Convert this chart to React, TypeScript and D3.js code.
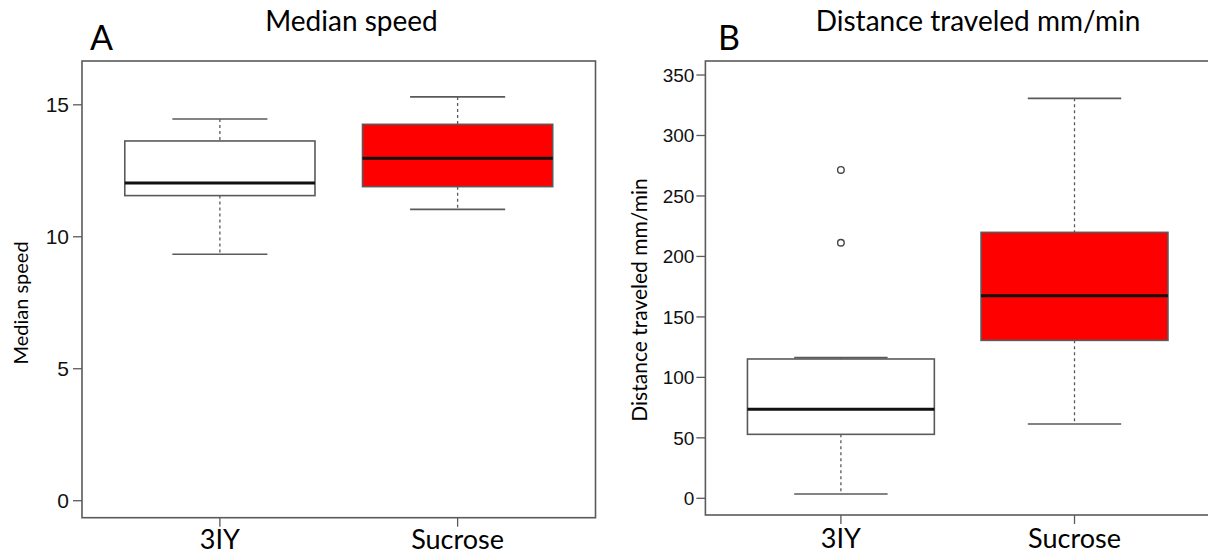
import React from "react";
import * as d3 from "d3";

// ---------- data ----------
const categories = ["3IY", "Sucrose"];
const boxFills = ["#ffffff", "#ff0000"];

// Panel A: Median speed
const speedWhiskerLow = [9.34, 11.04];
const speedQ1 = [11.56, 11.9];
const speedMedian = [12.04, 12.98];
const speedQ3 = [13.63, 14.26];
const speedWhiskerHigh = [14.46, 15.3];
const speedOutliers: number[][] = [[], []];
const speedTicks = [0, 5, 10, 15];

// Panel B: Distance traveled mm/min
const distWhiskerLow = [3.6, 61.4];
const distQ1 = [52.9, 130.6];
const distMedian = [73.6, 167.5];
const distQ3 = [115.2, 219.9];
const distWhiskerHigh = [116.3, 330.7];
const distOutliers: number[][] = [[271.5, 211.3], []];
const distTicks = [0, 50, 100, 150, 200, 250, 300, 350];

const FONT = "Lato, 'Open Sans', sans-serif";
const NUMFONT = "'Liberation Sans', Arial, sans-serif";
const GREY = "#5a5a5a";

type PanelProps = {
  left: number;
  right: number;
  top: number;
  bottom: number;
  yDomain: [number, number];
  low: number[];
  q1: number[];
  med: number[];
  q3: number[];
  high: number[];
  outliers: number[][];
  ticks: number[];
  tickFont: number;
  tickGap: number;
  letter: string;
  letterX: number;
  title: string;
  titleX: number;
  titleSize: number;
  yLabel: string;
  yLabelX: number;
  yLabelY: number;
  yLabelSize: number;
  xLabelBaseline: number;
};

function Panel(p: PanelProps) {
  const x = d3.scaleLinear().domain([0.42, 2.58]).range([p.left, p.right]);
  const y = d3.scaleLinear().domain(p.yDomain).range([p.bottom, p.top]);
  const halfBox = 0.4;
  const halfCap = 0.2;
  const tickLen = 9;
  return (
    <g>
      {/* letter and title */}
      <text x={p.letterX} y={50} fontFamily={FONT} fontSize={34} fill="#000">
        {p.letter}
      </text>
      <text
        x={p.titleX}
        y={30.5}
        fontFamily={FONT}
        fontSize={p.titleSize}
        textAnchor="middle"
        fill="#000"
      >
        {p.title}
      </text>
      {/* boxes */}
      {categories.map((c, i) => {
        const cx = x(i + 1);
        return (
          <g key={c}>
            <line
              x1={cx}
              x2={cx}
              y1={y(p.high[i])}
              y2={y(p.q3[i])}
              stroke={GREY}
              strokeWidth={1.3}
              strokeDasharray="3,3"
            />
            <line
              x1={cx}
              x2={cx}
              y1={y(p.q1[i])}
              y2={y(p.low[i])}
              stroke={GREY}
              strokeWidth={1.3}
              strokeDasharray="3,3"
            />
            <line
              x1={x(i + 1 - halfCap)}
              x2={x(i + 1 + halfCap)}
              y1={y(p.high[i])}
              y2={y(p.high[i])}
              stroke={GREY}
              strokeWidth={1.6}
            />
            <line
              x1={x(i + 1 - halfCap)}
              x2={x(i + 1 + halfCap)}
              y1={y(p.low[i])}
              y2={y(p.low[i])}
              stroke={GREY}
              strokeWidth={1.6}
            />
            <rect
              x={x(i + 1 - halfBox)}
              y={y(p.q3[i])}
              width={x(i + 1 + halfBox) - x(i + 1 - halfBox)}
              height={y(p.q1[i]) - y(p.q3[i])}
              fill={boxFills[i]}
              stroke={GREY}
              strokeWidth={1.6}
            />
            <line
              x1={x(i + 1 - halfBox)}
              x2={x(i + 1 + halfBox)}
              y1={y(p.med[i])}
              y2={y(p.med[i])}
              stroke="#111"
              strokeWidth={3}
            />
            {p.outliers[i].map((v, j) => (
              <circle
                key={j}
                cx={cx}
                cy={y(v)}
                r={3.3}
                fill="none"
                stroke="#444"
                strokeWidth={1.4}
              />
            ))}
          </g>
        );
      })}
      {/* frame */}
      <rect
        x={p.left}
        y={p.top}
        width={p.right - p.left}
        height={p.bottom - p.top}
        fill="none"
        stroke={GREY}
        strokeWidth={1.6}
      />
      {/* y axis ticks */}
      {p.ticks.map((t) => (
        <g key={t}>
          <line
            x1={p.left - tickLen}
            x2={p.left}
            y1={y(t)}
            y2={y(t)}
            stroke={GREY}
            strokeWidth={1.3}
          />
          <text
            x={p.left - tickLen - p.tickGap}
            y={y(t)}
            dy="0.36em"
            textAnchor="end"
            fontFamily={NUMFONT}
            fontSize={p.tickFont}
            fill="#111"
          >
            {t}
          </text>
        </g>
      ))}
      {/* x axis ticks */}
      {categories.map((c, i) => (
        <g key={c}>
          <line
            x1={x(i + 1)}
            x2={x(i + 1)}
            y1={p.bottom}
            y2={p.bottom + tickLen}
            stroke={GREY}
            strokeWidth={1.3}
          />
          <text
            x={x(i + 1)}
            y={p.xLabelBaseline}
            textAnchor="middle"
            fontFamily={FONT}
            fontSize={27}
            fill="#000"
          >
            {c}
          </text>
        </g>
      ))}
      {/* y label */}
      <text
        transform={`translate(${p.yLabelX},${p.yLabelY}) rotate(-90)`}
        textAnchor="middle"
        fontFamily={FONT}
        fontSize={p.yLabelSize}
        fill="#000"
      >
        {p.yLabel}
      </text>
    </g>
  );
}

export default function App() {
  return (
    <svg
      width={1208}
      height={555}
      style={{ position: "absolute", left: 0, top: 0, background: "#fff" }}
    >
      <rect width={1208} height={555} fill="#fff" />
      <Panel
        left={82}
        right={595.5}
        top={61}
        bottom={517.7}
        yDomain={[-0.644, 16.66]}
        low={speedWhiskerLow}
        q1={speedQ1}
        med={speedMedian}
        q3={speedQ3}
        high={speedWhiskerHigh}
        outliers={speedOutliers}
        ticks={speedTicks}
        tickFont={21}
        tickGap={4}
        letter="A"
        letterX={90}
        title="Median speed"
        titleX={351.5}
        titleSize={28}
        yLabel="Median speed"
        yLabelX={28}
        yLabelY={303}
        yLabelSize={20}
        xLabelBaseline={549}
      />
      <Panel
        left={705.4}
        right={1210}
        top={61}
        bottom={515}
        yDomain={[-13.8, 361.6]}
        low={distWhiskerLow}
        q1={distQ1}
        med={distMedian}
        q3={distQ3}
        high={distWhiskerHigh}
        outliers={distOutliers}
        ticks={distTicks}
        tickFont={19}
        tickGap={2}
        letter="B"
        letterX={718}
        title="Distance traveled mm/min"
        titleX={978}
        titleSize={28}
        yLabel="Distance traveled mm/min"
        yLabelX={647}
        yLabelY={300}
        yLabelSize={21}
        xLabelBaseline={548}
      />
    </svg>
  );
}
